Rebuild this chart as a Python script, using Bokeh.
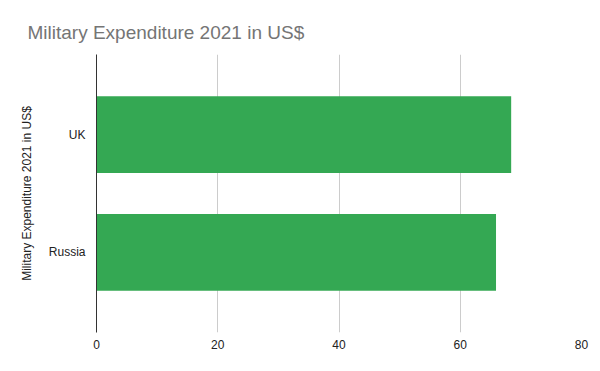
from bokeh.plotting import figure
from bokeh.models import FactorRange, Range1d, FixedTicker
from bokeh.embed import file_html
from bokeh.resources import INLINE

title_text = "Military Expenditure 2021 in US$"
countries = ["Russia", "UK"]
spending = [65.9, 68.4]
x_ticks = [0, 20, 40, 60, 80]

FONT = "Liberation Sans"

p = figure(
    width=592, height=363,
    y_range=FactorRange(factors=countries, range_padding=0.18),
    x_range=Range1d(0, 80),
    output_backend="svg", toolbar_location=None,
    min_border_left=96, min_border_right=11, min_border_top=54, min_border_bottom=31,
)
p.outline_line_color = None

p.hbar(y=countries, right=spending, height=0.65, color="#34a853", line_color=None)

p.title.text = title_text
p.title.text_font = FONT
p.title.text_font_size = "19px"
p.title.text_font_style = "normal"
p.title.text_color = "#757575"
p.title.offset = -69
p.title.standoff = 23

p.xaxis.ticker = FixedTicker(ticks=x_ticks)
p.xaxis.axis_line_color = None
p.xaxis.major_tick_line_color = None
p.xaxis.minor_tick_line_color = None
p.xaxis.major_label_text_font = FONT
p.xaxis.major_label_text_font_size = "12px"
p.xaxis.major_label_text_color = "#222222"
p.xaxis.major_label_standoff = 1

p.yaxis.axis_line_color = "#333333"
p.yaxis.major_tick_line_color = None
p.yaxis.minor_tick_line_color = None
p.yaxis.major_label_text_font = FONT
p.yaxis.major_label_text_font_size = "12px"
p.yaxis.major_label_text_color = "#222222"
p.yaxis.major_label_standoff = 5
p.yaxis.axis_label = title_text
p.yaxis.axis_label_text_font = FONT
p.yaxis.axis_label_text_font_size = "12px"
p.yaxis.axis_label_text_font_style = "normal"
p.yaxis.axis_label_text_color = "#222222"
p.yaxis.axis_label_standoff = 12

p.xgrid.grid_line_color = "#cccccc"
p.ygrid.grid_line_color = None

open("out.html", "w").write(file_html(p, INLINE))
